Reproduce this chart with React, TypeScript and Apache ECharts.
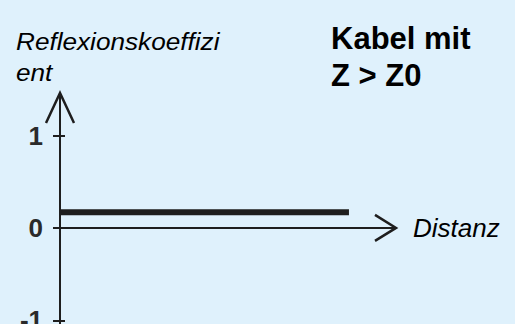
import React, { useEffect, useRef } from "react";
import * as echarts from "echarts";

const distanz = [0, 8.6];
const reflexion = [0.17, 0.17];
const yTicks = [-1, 0, 1];
const yAxisLabel = "Reflexionskoeffizi\nent";
const xAxisLabel = "Distanz";
const titleText = "Kabel mit\nZ > Z0";
const xRange = [0, 10];
const yRange = [-1.04, 1.46];
// arrow heads: [x, y, direction] (0 = right, 1 = up)
const arrowHeads = [
  [xRange[1], 0, 0],
  [0, yRange[1], 1],
];

const FONT = "'Liberation Sans', Arial, sans-serif";
const INK = "#1e1e1e";

export default function App() {
  const ref = useRef<HTMLDivElement>(null);
  useEffect(() => {
    document.body.style.margin = "0";
    const chart = echarts.init(ref.current!, null, { renderer: "svg" });
    chart.setOption({
      animation: false,
      backgroundColor: "#dff1fc",
      grid: { left: 60, right: 119, top: 93, bottom: 0, containLabel: false, outerBoundsMode: "none" },
      title: {
        text: titleText,
        left: 326,
        top: 15,
        textStyle: { fontFamily: FONT, fontSize: 31, fontWeight: "bold", color: "#000", lineHeight: 37 },
      },
      xAxis: {
        type: "value",
        min: xRange[0],
        max: xRange[1],
        axisLine: { show: true, onZero: true, lineStyle: { color: INK, width: 2 } },
        axisTick: { show: false },
        axisLabel: { show: false },
        splitLine: { show: false },
        name: xAxisLabel,
        nameLocation: "end",
        nameGap: 17,
        nameTextStyle: { fontFamily: FONT, fontSize: 26, fontStyle: "italic", color: "#000", verticalAlign: "middle", padding: [0, 0, 4, 0] },
      },
      yAxis: [
        {
          type: "value",
          min: yRange[0],
          max: yRange[1],
          position: "left",
          axisLine: { show: true, onZero: false, lineStyle: { color: INK, width: 2 } },
          axisTick: { show: true, customValues: yTicks, length: 7, lineStyle: { color: INK, width: 2 } },
          axisLabel: {
            show: true,
            customValues: yTicks,
            margin: 17,
            fontFamily: FONT,
            fontSize: 26,
            fontWeight: "bold",
            color: "#2a2a2a",
          },
          splitLine: { show: false },
        },
        {
          type: "value",
          min: yRange[0],
          max: yRange[1],
          position: "left",
          axisLine: { show: false, onZero: false },
          axisTick: { show: true, inside: true, customValues: yTicks, length: 5, lineStyle: { color: INK, width: 2 } },
          axisLabel: { show: false },
          splitLine: { show: false },
        },
      ],
      graphic: [
        {
          type: "text",
          left: 16,
          top: 26,
          scaleX: 1.09,
          style: {
            text: yAxisLabel,
            fontFamily: FONT,
            fontSize: 24,
            fontStyle: "italic",
            fill: "#000",
            lineHeight: 31,
          },
        },
      ],
      series: [
        {
          type: "line",
          data: distanz.map((d, i) => [d, reflexion[i]]),
          showSymbol: false,
          symbol: "none",
          lineStyle: { color: INK, width: 6, cap: "butt" },
          z: 5,
        },
        {
          type: "custom",
          clip: false,
          data: arrowHeads,
          renderItem: (params: any, api: any) => {
            const p = api.coord([api.value(0), api.value(1)]);
            const dir = api.value(2);
            const pts =
              dir === 0
                ? [[p[0] - 21, p[1] - 13], [p[0], p[1]], [p[0] - 21, p[1] + 13]]
                : [[p[0] - 14, p[1] + 30], [p[0], p[1]], [p[0] + 14, p[1] + 30]];
            return {
              type: "polyline",
              shape: { points: pts },
              style: { stroke: INK, lineWidth: 2.5, fill: "none" },
            };
          },
          z: 6,
        },
      ],
    });
    return () => chart.dispose();
  }, []);
  return <div ref={ref} style={{ position: "absolute", left: 0, top: 0, width: 515, height: 324 }} />;
}
